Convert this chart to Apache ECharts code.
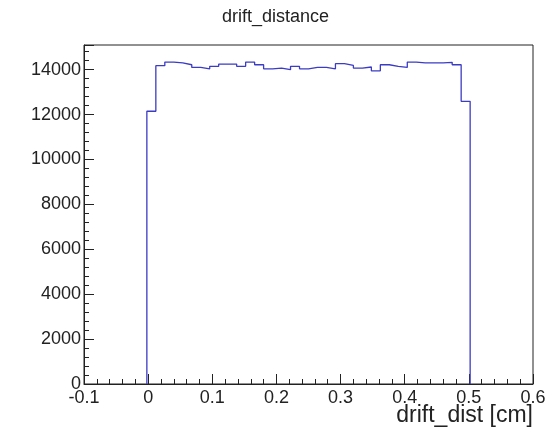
<!DOCTYPE html>
<html>
<head>
<meta charset="UTF-8">
<title>drift_distance</title>
<script src="https://cdn.jsdelivr.net/npm/echarts@6/dist/echarts.min.js"></script>
<style>
html,body{margin:0;padding:0;background:#fff;}
#chart{width:554px;height:435px;}
</style>
</head>
<body>
<div id="chart"></div>
<script type="text/javascript">
// histogram binning: 50 bins from -0.1 to 0.6 cm, filled bins start at index 7
var binLow = -0.1;
var binWidth = 0.014;
var firstBin = 7;
// counts per filled bin
var counts = [12150, 14180, 14340, 14300, 14220, 14100, 14040, 14150, 14250, 14250,
              14150, 14340, 14220, 14040, 14070, 14000, 14150, 14040, 14100, 14100,
              14040, 14270, 14190, 14070, 14120, 13950, 14220, 14150, 14100, 14340,
              14300, 14300, 14300, 14330, 14220, 12590];
var yLabels = [0, 2000, 4000, 6000, 8000, 10000, 12000, 14000];

// step outline: up at the left edge, across to the right edge
var pts = [];
var edge0 = binLow + firstBin * binWidth;
pts.push([edge0, 0]);
for (var i = 0; i < counts.length; i++) {
  pts.push([binLow + (firstBin + i + 1) * binWidth, counts[i]]);
}
pts.push([binLow + (firstBin + counts.length) * binWidth, 0]);

var font = 'Liberation Sans';
var ink = '#222';

var mychart = echarts.init(document.getElementById('chart'));
var option = {
  animation: false,
  title: [{
    text: 'drift_distance',
    left: 217, top: 3,
    textStyle: {fontFamily: font, fontSize: 18, fontWeight: 'normal', color: ink}
  }, {
    // x axis title, right aligned under the axis end like ROOT does
    text: 'drift_dist [cm]',
    right: 16, top: 399,
    textStyle: {fontFamily: font, fontSize: 23, fontWeight: 'normal', color: ink}
  }],
  grid: {left: 84, right: 21, top: 45, bottom: 51, show: true, borderColor: ink, borderWidth: 1,
         containLabel: false, outerBoundsMode: 'none'},
  xAxis: [{
    type: 'value', min: -0.1, max: 0.6, interval: 0.1,
    axisLine: {onZero: false, lineStyle: {color: ink}},
    axisTick: {inside: true, length: 10, lineStyle: {color: ink}},
    splitLine: {show: false},
    axisLabel: {
      fontFamily: font, fontSize: 18, color: ink, margin: 5,
      formatter: function (v) { return (Math.round(v * 10) / 10).toString(); }
    }
  }, {
    type: 'value', min: -0.1, max: 0.6, interval: 0.02, position: 'bottom',
    axisLine: {show: false, onZero: false},
    axisTick: {inside: true, length: 5, lineStyle: {color: ink}},
    axisLabel: {show: false},
    splitLine: {show: false}
  }],
  yAxis: [{
    type: 'value', min: 0, max: 15100, interval: 2000,
    axisLine: {show: true, onZero: false, lineStyle: {color: ink}},
    axisTick: {inside: true, length: 10, lineStyle: {color: ink}},
    splitLine: {show: false},
    axisLabel: {
      fontFamily: font, fontSize: 18, color: ink, margin: 3,
      formatter: function (v) { return yLabels.indexOf(v) >= 0 ? String(v) : ''; }
    }
  }, {
    type: 'value', min: 0, max: 15100, interval: 400, position: 'left',
    axisLine: {show: false, onZero: false},
    axisTick: {show: true, inside: true, length: 5, lineStyle: {color: ink}},
    axisLabel: {show: false},
    splitLine: {show: false}
  }],
  series: [{
    type: 'line',
    step: 'start',
    data: pts,
    symbol: 'none',
    lineStyle: {color: '#3b3bc4', width: 1.3},
    z: 1
  }]
};
mychart.setOption(option);
</script>
</body>
</html>
